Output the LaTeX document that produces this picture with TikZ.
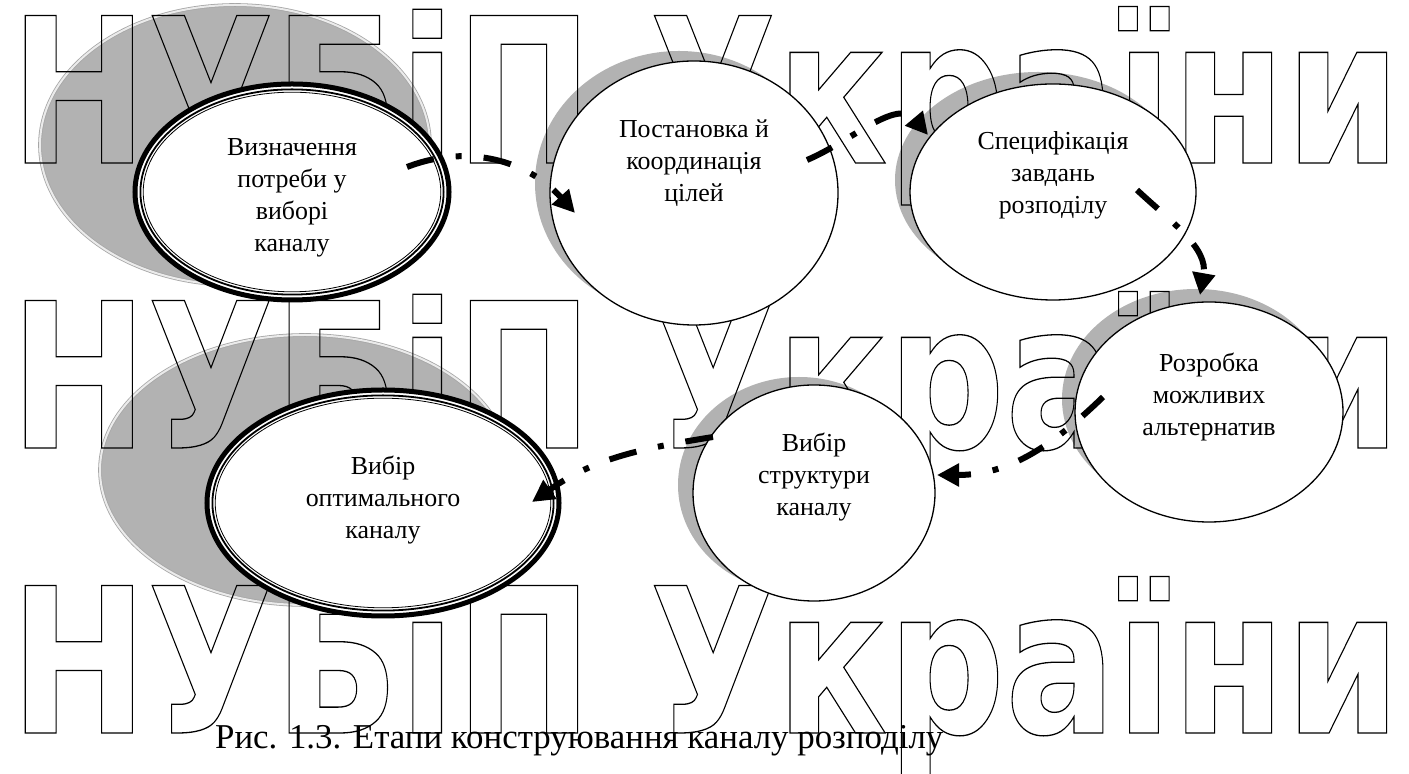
\documentclass[tikz,border=0pt]{standalone}
\usepackage{fontspec}
\setmainfont{Liberation Serif}
\newfontfamily\wmfont{DejaVu Sans}
\usepackage{tikz}
\usetikzlibrary{arrows.meta, calc, backgrounds, shapes.geometric}
\newcommand{\outlined}[1]{\special{pdf:literal direct 1 Tr 1.3 w}#1\special{pdf:literal direct 0 Tr}}

\begin{document}
\begin{tikzpicture}[x=1bp, y=1bp,
    stage/.style = {draw, ellipse, fill=white, line width=1.3bp, inner sep=0pt},
    ring/.style = {stage, line width=5bp},
    lbl/.style = {align=center, inner sep=0pt, font=\fontsize{26}{32}\selectfont},
    shadowfill/.style = {fill=black!30},
    halo/.style = {shadowfill, draw=black!35, line width=0.8bp, double=black!8, double distance=2bp},
    flow/.style = {line width=6bp, dash pattern=on 28bp off 22bp on 6bp off 22bp, -{Triangle[length=22bp,width=22bp]}}]
    \useasboundingbox (0,0) rectangle (1409,773);

    % stages
    \node[ring, minimum width=314bp, minimum height=216bp] (e1) at (292,581) {};
    \node[stage, minimum width=288bp, minimum height=264bp] (e2) at (694,580) {};
    \node[stage, minimum width=286bp, minimum height=216bp] (e3) at (1053,581) {};
    \node[stage, minimum width=268bp, minimum height=220bp] (e4) at (1209,361) {};
    \node[stage, minimum width=242bp, minimum height=216bp] (e5) at (814,280) {};
    \node[ring, minimum width=352bp, minimum height=226bp] (e6) at (383,270) {};

    \foreach \e/\a/\b in {e1/157/108, e6/176/113} {
        \draw[line width=1.8bp] (\e.center) ellipse ({\a-5.4} and {\b-5.4});
        \draw[line width=0.8bp] (\e.center) ellipse ({\a-8.2} and {\b-8.2});
    }

    \node[lbl] (t1) at ($(e1.center)+(0,-6)$) {Визначення\\потреби у\\виборі\\каналу};
    \node[lbl] (t2) at ($(e2.center)+(0,30)$) {Постановка й\\координація\\цілей};
    \node[lbl] (t3) at ($(e3.center)+(0,17)$) {Специфікація\\завдань\\розподілу};
    \node[lbl] (t4) at ($(e4.center)+(0,15)$) {Розробка\\можливих\\альтернатив};
    \node[lbl] (t5) at ($(e5.center)+(0,16)$) {Вибір\\структури\\каналу};
    \node[lbl] (t6) at ($(e6.center)+(0,3)$) {Вибір\\оптимального\\каналу};

    % flow between stages
    \path[flow] ($(e1.center)+(115,25)$) edge[out=21, in=132] ($(e2.center)+(-119,-20)$);
    \path[flow] ($(e2.center)+(113,33)$) edge[out=23, in=130] ($(e3.center)+(-125,57)$);
    \path[flow] ($(e3.center)+(84,2)$) edge[out=-43, in=80] ($(e4.center)+(-9,117)$);
    \path[flow] ($(e4.center)+(-106,15)$) edge[out=224, in=0] ($(e5.center)+(123,18)$);
    \path[flow] ($(e5.center)+(-101,56)$) edge[out=189, in=35] ($(e6.center)+(149,1)$);

    \node[anchor=base west, inner sep=0pt, font=\fontsize{35}{40}\selectfont] (cap) at (215,25) {Рис. 1.3. Етапи конструювання каналу розподілу};

    \begin{scope}[on background layer]
        \fill[white] (0,0) rectangle (1409,773);
        \path[halo] (235,628) ellipse (195 and 140);
        \path[halo] (305,303) ellipse (205 and 135);
        \foreach \e/\dx/\dy/\a/\b in {e2/-15/10/144/132, e3/-15/12/143/108, e4/-13/13/134/110, e5/-15/8/121/108}
            \fill[shadowfill] ($(\e.center)+(\dx,\dy)$) ellipse ({\a} and {\b});
        \foreach \r/\base in {1/610, 2/325, 3/40}
            \node[anchor=base west, inner sep=0pt] (wm\r) at (10,\base) {\outlined{\resizebox{1390bp}{\height}{\fontsize{203}{203}\wmfont\bfseries НУБіП України}}};
    \end{scope}
\end{tikzpicture}
\end{document}
